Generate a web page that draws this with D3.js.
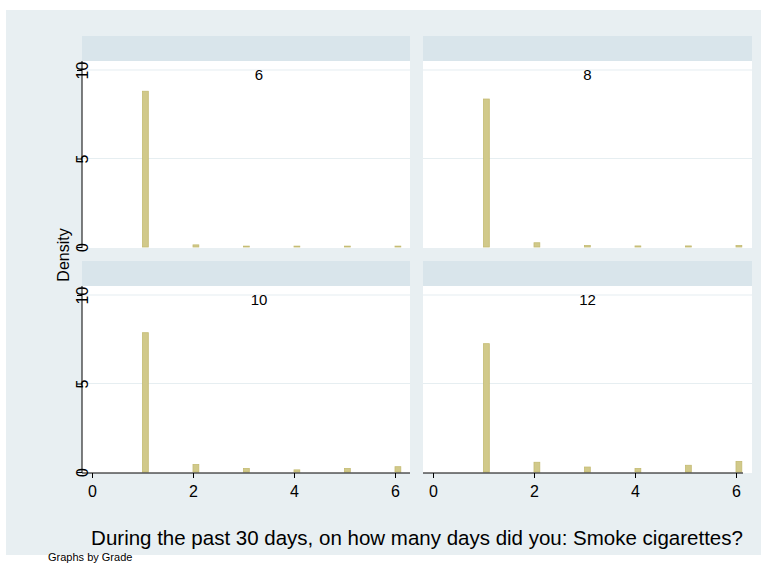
<!DOCTYPE html>
<html>
<head>
<meta charset="utf-8">
<script src="https://cdn.jsdelivr.net/npm/d3@7"></script>
<style>
  body { margin: 0; background: #fff; }
  text { font-family: "Liberation Sans", Arial, sans-serif; fill: #000; }
</style>
</head>
<body>
<svg id="chart"></svg>
<script>
const width = 767;
const height = 564;

// data
const grades = ['6', '8', '10', '12'];
const days = [1, 2, 3, 4, 5, 6];
const density6 = [8.8, 0.12, 0.05, 0.05, 0.05, 0.05];
const density8 = [8.36, 0.24, 0.08, 0.06, 0.06, 0.08];
const density10 = [7.87, 0.42, 0.2, 0.12, 0.2, 0.3];
const density12 = [7.25, 0.55, 0.28, 0.2, 0.38, 0.6];
const xTicks = [0, 2, 4, 6];
const yTicks = [0, 5, 10];
const binWidth = 0.115;

const densities = [density6, density8, density10, density12];

const bgColor = '#e8eff2';
const stripColor = '#d9e5eb';
const barFill = '#d1c98a';
const barStroke = '#c4bb72';

const svg = d3.select('#chart')
  .attr('width', width)
  .attr('height', height);

svg.append('rect')
  .attr('x', 6).attr('y', 10)
  .attr('width', 755).attr('height', 545)
  .attr('fill', bgColor);

// panel boxes
const cols = [{left: 82, right: 410}, {left: 423, right: 752}];
const rows = [{strip: 36, top: 61, bottom: 248}, {strip: 261, top: 286, bottom: 473}];
const stripH = 25;

grades.forEach((g, i) => {
  const c = cols[i % 2];
  const r = rows[Math.floor(i / 2)];
  const vals = densities[i];

  const x = d3.scaleLinear().domain([0, 6]).range([c.left + 10, c.left + 313]);
  const y = d3.scaleLinear().domain([0, 10]).range([r.bottom - 1, r.top + 9]);

  const panel = svg.append('g');

  panel.append('rect')
    .attr('x', c.left).attr('y', r.strip)
    .attr('width', c.right - c.left).attr('height', stripH)
    .attr('fill', stripColor);

  panel.append('rect')
    .attr('x', c.left).attr('y', r.top)
    .attr('width', c.right - c.left).attr('height', r.bottom - r.top)
    .attr('fill', '#fff');

  // grid lines
  panel.selectAll('line.grid')
    .data(yTicks.filter(t => t > 0))
    .enter().append('line')
    .attr('class', 'grid')
    .attr('x1', c.left).attr('x2', c.right)
    .attr('y1', d => y(d)).attr('y2', d => y(d))
    .attr('stroke', '#e6eef1')
    .attr('stroke-width', 1.2);

  // bars
  panel.selectAll('rect.bar')
    .data(days.map((d, k) => ({day: d, v: vals[k]})))
    .enter().append('rect')
    .attr('class', 'bar')
    .attr('x', d => x(d.day))
    .attr('width', d => x(d.day + binWidth) - x(d.day))
    .attr('y', d => y(d.v))
    .attr('height', d => y(0) - y(d.v))
    .attr('fill', barFill)
    .attr('stroke', barStroke)
    .attr('stroke-width', 0.8);

  // panel label
  panel.append('text')
    .attr('x', i % 2 === 0 ? c.left + 177 : (c.left + c.right) / 2)
    .attr('y', r.top + 19)
    .attr('text-anchor', 'middle')
    .attr('font-size', 15)
    .text(g);

  // y axis, only on left column
  if (i % 2 === 0) {
    const yAxis = panel.append('g')
      .attr('transform', `translate(${c.left},0)`)
      .call(d3.axisLeft(y).tickValues(yTicks).tickSize(5).tickFormat(d3.format('d')));
    yAxis.select('.domain').remove();
    yAxis.append('line')
      .attr('y1', r.top).attr('y2', r.bottom)
      .attr('stroke', '#000');
    yAxis.selectAll('.tick line').attr('stroke', '#000');
    yAxis.selectAll('.tick text')
      .attr('x', 0).attr('y', 0)
      .attr('transform', 'rotate(-90)')
      .attr('text-anchor', 'middle')
      .attr('dy', '0.35em')
      .attr('font-size', 16)
      .attr('font-family', '"Liberation Sans", Arial, sans-serif')
      .attr('fill', '#000');
  }

  // x axis, only on bottom row
  if (i >= 2) {
    const xAxis = panel.append('g')
      .attr('transform', `translate(0,${r.bottom})`)
      .call(d3.axisBottom(x).tickValues(xTicks).tickSize(5).tickFormat(d3.format('d')));
    xAxis.select('.domain').remove();
    xAxis.append('line')
      .attr('x1', c.left).attr('x2', c.right - (i === 2 ? 0 : 9))
      .attr('stroke', '#000');
    xAxis.selectAll('.tick line').attr('stroke', '#000');
    xAxis.selectAll('.tick text')
      .attr('y', 13)
      .attr('font-size', 16)
      .attr('font-family', '"Liberation Sans", Arial, sans-serif')
      .attr('fill', '#000');
  }
});

// y title
svg.append('text')
  .attr('transform', 'translate(63,255) rotate(-90)')
  .attr('text-anchor', 'middle')
  .attr('dy', '0.35em')
  .attr('font-size', 16)
  .text('Density');

// x title
svg.append('text')
  .attr('x', 417)
  .attr('y', 545)
  .attr('text-anchor', 'middle')
  .attr('font-size', 20.5)
  .text('During the past 30 days, on how many days did you: Smoke cigarettes?');

svg.append('text')
  .attr('x', 48)
  .attr('y', 561)
  .attr('font-size', 11)
  .text('Graphs by Grade');
</script>
</body>
</html>
